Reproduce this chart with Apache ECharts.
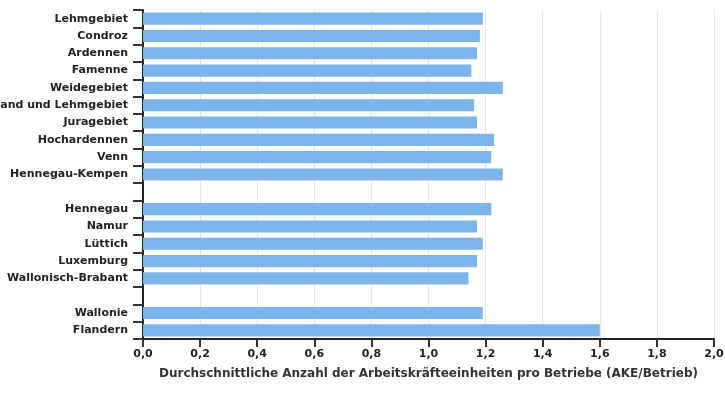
<!DOCTYPE html>
<html>
<head>
<meta charset="utf-8">
<script src="https://cdn.jsdelivr.net/npm/echarts@6/dist/echarts.min.js"></script>
<style>html,body{margin:0;padding:0;background:#fff}#c{width:725px;height:400px}</style>
</head>
<body>
<div id="c"></div>
<script>
var categories = ['Lehmgebiet','Condroz','Ardennen','Famenne','Weidegebiet','Sand und Lehmgebiet','Juragebiet','Hochardennen','Venn','Hennegau-Kempen','','Hennegau','Namur','Lüttich','Luxemburg','Wallonisch-Brabant',' ','Wallonie','Flandern'];
var values = [1.19,1.18,1.17,1.15,1.26,1.16,1.17,1.23,1.22,1.26,null,1.22,1.17,1.19,1.17,1.14,null,1.19,1.6];
var xTicks = [0,0.2,0.4,0.6,0.8,1.0,1.2,1.4,1.6,1.8,2.0];
var xTitle = 'Durchschnittliche Anzahl der Arbeitskräfteeinheiten pro Betriebe (AKE/Betrieb)';

var chart = echarts.init(document.getElementById('c'), null, {renderer:'canvas'});
chart.setOption({
  animation:false,
  textStyle:{fontFamily:'DejaVu Sans'},
  grid:{left:143,right:11,top:10,bottom:61,containLabel:false,outerBoundsMode:'none'},
  xAxis:{
    type:'value', min:xTicks[0], max:xTicks[xTicks.length-1], interval:0.2,
    axisLine:{show:true,lineStyle:{color:'#222',width:2}},
    axisTick:{show:true,length:8,lineStyle:{color:'#333',width:2}},
    axisLabel:{color:'#222',fontWeight:'bold',fontSize:11,margin:10,
      formatter:function(v){return v.toFixed(1).replace('.',',');}},
    splitLine:{show:true,lineStyle:{color:'#e6e6e6',width:1}},
    name:xTitle, nameLocation:'middle', nameGap:29,
    nameTextStyle:{color:'#333',fontWeight:'bold',fontSize:12}
  },
  yAxis:{
    type:'category', data:categories, inverse:true,
    axisLine:{show:true,lineStyle:{color:'#222',width:2}},
    axisTick:{show:true,length:10,lineStyle:{color:'#333',width:2}},
    axisLabel:{color:'#222',fontWeight:'bold',fontSize:11,margin:15},
    splitLine:{show:false}
  },
  series:[{
    type:'bar', data:values, barCategoryGap:'30%',
    itemStyle:{color:'#7cb5ec'}
  }]
});
</script>
</body>
</html>
